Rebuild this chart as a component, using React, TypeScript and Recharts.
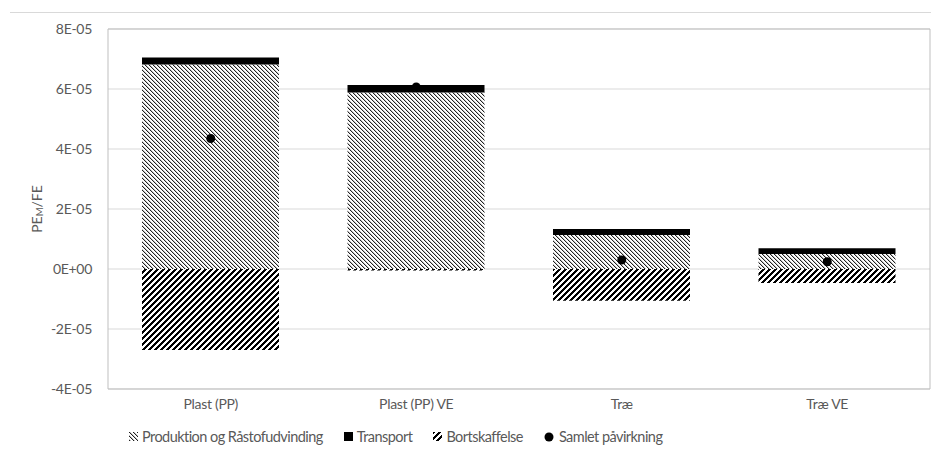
import {
  ComposedChart,
  Bar,
  Line,
  XAxis,
  YAxis,
  CartesianGrid,
  ReferenceArea,
} from "recharts";

const categories = ["Plast (PP)", "Plast (PP) VE", "Træ", "Træ VE"];
const produktion = [6.82e-5, 5.88e-5, 1.13e-5, 0.5e-5];
const transport = [0.23e-5, 0.25e-5, 0.2e-5, 0.19e-5];
const bortskaffelse = [-2.7e-5, -0.05e-5, -1.06e-5, -0.47e-5];
const samlet = [4.35e-5, 6.07e-5, 0.3e-5, 0.24e-5];
const yTicks = [-4e-5, -2e-5, 0, 2e-5, 4e-5, 6e-5, 8e-5];

const data = categories.map((name, i) => ({
  name,
  produktion: produktion[i],
  transport: transport[i],
  bortskaffelse: bortskaffelse[i],
  samlet: samlet[i],
}));

const FONT = "Lato, 'Open Sans', sans-serif";
const TEXT = "#595959";

function sci(v: number) {
  if (v === 0) return "0E+00";
  const e = Math.floor(Math.log10(Math.abs(v)) + 1e-9);
  const m = Math.round(v / Math.pow(10, e));
  return `${m}E${e < 0 ? "-" : "+"}${String(Math.abs(e)).padStart(2, "0")}`;
}

// pixel hatch tiles, like Excel's pattern fills
function ProdPattern({ id }: { id: string }) {
  const px = [0, 1, 2, 3];
  return (
    <pattern id={id} width={4} height={4} patternUnits="userSpaceOnUse">
      <rect width={4} height={4} fill="#fff" />
      {px.map((i) => (
        <rect key={"b" + i} x={i} y={i} width={1} height={1} fill="#222" shapeRendering="crispEdges" />
      ))}
      {px.map((i) => (
        <rect key={"g" + i} x={(i + 1) % 4} y={i} width={1} height={1} fill="#c4c4c4" shapeRendering="crispEdges" />
      ))}
    </pattern>
  );
}

function BortPattern({ id }: { id: string }) {
  const rows = [0, 1, 2, 3, 4, 5];
  const cols = [0, 1, 2];
  return (
    <pattern id={id} width={6} height={6} patternUnits="userSpaceOnUse">
      <rect width={6} height={6} fill="#fff" />
      {rows.map((y) =>
        cols.map((k) => (
          <rect
            key={y + "-" + k}
            x={(5 - y + k) % 6}
            y={y}
            width={1}
            height={1}
            fill="#000"
            shapeRendering="crispEdges"
          />
        ))
      )}
    </pattern>
  );
}

function YLabel({ viewBox }: any) {
  const cx = 36;
  const cy = viewBox ? viewBox.y + viewBox.height / 2 : 209;
  return (
    <text
      x={cx}
      y={cy}
      transform={`rotate(-90, ${cx}, ${cy})`}
      textAnchor="middle"
      dominantBaseline="central"
      fill={TEXT}
      fontSize={14}
      fontFamily={FONT}
    >
      PE
      <tspan fontSize={9.5} dy={3}>
        M
      </tspan>
      <tspan dy={-3}>/FE</tspan>
    </text>
  );
}

function Swatch({ kind }: { kind: string }) {
  if (kind === "dot")
    return (
      <svg width={10} height={10} style={{ marginRight: 5 }}>
        <circle cx={5} cy={5} r={4.5} fill="#000" />
      </svg>
    );
  const fill =
    kind === "prod" ? "url(#lgProd)" : kind === "bort" ? "url(#lgBort)" : "#000";
  return (
    <svg width={9} height={9} style={{ marginRight: 4 }}>
      <defs>
        {kind === "prod" && <ProdPattern id="lgProd" />}
        {kind === "bort" && <BortPattern id="lgBort" />}
      </defs>
      <rect width={9} height={9} fill={fill} />
    </svg>
  );
}

const legendItems = [
  { kind: "prod", label: "Produktion og Råstofudvinding" },
  { kind: "trans", label: "Transport" },
  { kind: "bort", label: "Bortskaffelse" },
  { kind: "dot", label: "Samlet påvirkning" },
];

export default function App() {
  return (
    <div
      style={{
        position: "absolute",
        left: 0,
        top: 0,
        width: 931,
        height: 450,
        background: "#fff",
        fontFamily: FONT,
      }}
    >
      <div
        style={{
          position: "absolute",
          left: 10,
          top: 12,
          width: 921,
          borderTop: "1px solid #d9d9d9",
        }}
      />
      <ComposedChart
        width={931}
        height={420}
        data={data}
        stackOffset="sign"
        margin={{ top: 29, right: 1, bottom: 1, left: 0 }}
        barSize={137}
      >
        <defs>
          <ProdPattern id="prodPattern" />
          <BortPattern id="bortPattern" />
        </defs>
        <CartesianGrid vertical={false} stroke="#d9d9d9" />
        <ReferenceArea y1={-4e-5} y2={8e-5} fill="none" stroke="#bfbfbf" />
        <XAxis
          dataKey="name"
          axisLine={false}
          tickLine={false}
          tickSize={6}
          tickMargin={4}
          tick={{ fill: TEXT, fontSize: 14, fontFamily: FONT, letterSpacing: -0.3 }}
        />
        <YAxis
          width={108}
          domain={[-4e-5, 8e-5]}
          ticks={yTicks}
          interval={0}
          tickFormatter={sci}
          axisLine={false}
          tickLine={false}
          tickSize={14}
          tickMargin={2}
          tick={{ fill: TEXT, fontSize: 14, fontFamily: FONT, letterSpacing: -0.3 }}
          label={<YLabel />}
        />
        <Bar dataKey="produktion" stackId="a" fill="url(#prodPattern)" isAnimationActive={false} />
        <Bar dataKey="transport" stackId="a" fill="#000" isAnimationActive={false} />
        <Bar dataKey="bortskaffelse" stackId="a" fill="url(#bortPattern)" isAnimationActive={false} />
        <Line
          dataKey="samlet"
          stroke="none"
          dot={{ r: 4.5, fill: "#000", stroke: "none" }}
          activeDot={false}
          isAnimationActive={false}
        />
      </ComposedChart>
      <div
        style={{
          position: "absolute",
          left: 129,
          top: 428,
          display: "flex",
          alignItems: "center",
          fontSize: 14.5,
          letterSpacing: -0.55,
          color: TEXT,
          whiteSpace: "nowrap",
        }}
      >
        {legendItems.map((it) => (
          <div key={it.kind} style={{ display: "flex", alignItems: "center", marginRight: 21 }}>
            <Swatch kind={it.kind} />
            <span>{it.label}</span>
          </div>
        ))}
      </div>
    </div>
  );
}
